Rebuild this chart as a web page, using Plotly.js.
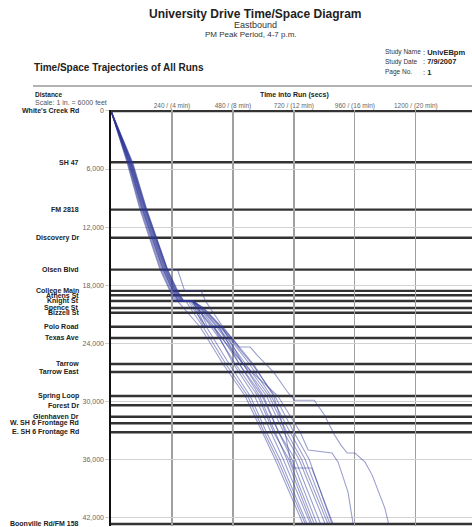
<!DOCTYPE html>
<html>
<head>
<meta charset="utf-8">
<script src="https://cdn.plot.ly/plotly-3.0.1.min.js"></script>
<style>html,body{margin:0;padding:0;background:#fff;}#chart{width:472px;height:527px;}</style>
</head>
<body>
<div id="chart"></div>
<script>
// ---- Data ----
const streetNames = ["White's Creek Rd","SH 47","FM 2818","Discovery Dr","Olsen Blvd","College Main","Athens St","Knight St","Spence St","Bizzell St","Polo Road","Texas Ave","Tarrow","Tarrow East","Spring Loop","Forest Dr","Glenhaven Dr","W. SH 6 Frontage Rd","E. SH 6 Frontage Rd","Boonville Rd/FM 158"];
const streetDist = [0,5300,10200,13100,16400,18600,19050,19640,20370,20850,22300,23460,26150,26980,29460,30420,31600,32280,33210,42690];

const timeTickVals = [240,480,720,960,1200];
const timeTickText = ["240 / (4 min)","480 / (8 min)","720 / (12 min)","960 / (16 min)","1200 / (20 min)"];
const distTickVals = [0,6000,12000,18000,24000,30000,36000,42000];

const runTimes = [
  [0,63,114,152,193,232,246,262,285,350,378,441,528,595,646,756],
  [0,65,117,155,196,235,252,295,312,362,390,452,538,603,655,765],
  [0,67,120,158,200,239,258,305,322,375,402,465,548,612,665,772],
  [0,69,123,161,204,243,262,312,330,365,405,428,482,565,628,678,785],
  [0,71,126,164,207,246,266,318,336,372,425,450,505,585,645,692,791],
  [0,73,128,166,210,249,270,320,340,395,425,490,578,640,700,800],
  [0,74,130,168,212,251,273,322,345,380,437,462,520,600,660,712,811],
  [0,76,132,170,214,253,276,323,348,405,438,505,595,660,725,825],
  [0,78,134,172,216,255,279,323,352,415,448,520,612,680,740,843],
  [0,80,136,174,218,257,281,323,355,420,455,530,622,692,750,854],
  [0,81,138,176,220,259,283,323,358,428,465,545,630,705,764,862],
  [0,83,140,178,222,261,285,323,362,432,470,555,645,720,780,870],
  [0,85,141,179,223,263,287,323,365,435,475,560,640,685,705,718,790,874],
  [0,70,124,162,205,245,265,318,338,400,435,520,657,745,776,870,894,933,953],
  [0,78,136,175,222,262,290,355,372,390,440,475,505,548,575,640,695,722,800,840,880,905,930,960,1000,1028,1078,1093]
];
const runDist = [
  [0,5300,10200,13100,16400,18600,19650,19650,20370,22300,23460,26150,29460,33210,36000,42690],
  [0,5300,10200,13100,16400,18600,19650,19650,20370,22300,23460,26150,29460,33210,36000,42690],
  [0,5300,10200,13100,16400,18600,19650,19650,20370,22300,23460,26150,29460,33210,36000,42690],
  [0,5300,10200,13100,16400,18600,19650,19650,20370,22300,22300,23460,26150,29460,33210,36000,42690],
  [0,5300,10200,13100,16400,18600,19650,19650,20370,22300,22300,23460,26150,29460,33210,36000,42690],
  [0,5300,10200,13100,16400,18600,19650,19650,20370,22300,23460,26150,29460,33210,36000,42690],
  [0,5300,10200,13100,16400,18600,19650,19650,20370,22300,22300,23460,26150,29460,33210,36000,42690],
  [0,5300,10200,13100,16400,18600,19650,19650,20370,22300,23460,26150,29460,33210,36000,42690],
  [0,5300,10200,13100,16400,18600,19650,19650,20370,22300,23460,26150,29460,33210,36000,42690],
  [0,5300,10200,13100,16400,18600,19650,19650,20370,22300,23460,26150,29460,33210,36000,42690],
  [0,5300,10200,13100,16400,18600,19650,19650,20370,22300,23460,26150,29460,33210,36000,42690],
  [0,5300,10200,13100,16400,18600,19650,19650,20370,22300,23460,26150,29460,33210,36000,42690],
  [0,5300,10200,13100,16400,18600,19650,19650,20370,22300,23460,26150,29460,33210,36000,36900,36900,42690],
  [0,5300,10200,13100,16400,18600,19650,19650,20370,22300,23460,26150,29460,33210,35050,35360,36300,39400,42690],
  [0,5300,10200,13100,16400,16400,18600,18600,19650,20370,22300,23460,24400,24400,25230,27000,29050,29900,29900,31430,33500,34540,35360,35360,36300,37640,41050,42690]
];

// ---- Build ----
const FONT = "Liberation Sans, Arial, sans-serif";
const traces = runTimes.map((t, i) => ({
  type: 'scatter', mode: 'lines', x: t, y: runDist[i],
  line: {color: 'rgba(45,55,150,0.48)', width: 1.1},
  hoverinfo: 'skip'
}));

const shapes = streetDist.map(d => ({
  type: 'line', xref: 'paper', x0: 0, x1: 1, yref: 'y', y0: d, y1: d,
  line: {color: '#333', width: 2.4}, layer: 'between'
}));
// header rule
shapes.push({type:'line', xref:'paper', yref:'paper', x0:-0.2161, x1:1, y0:1.0577, y1:1.0577, line:{color:'#999', width:1.5}});

const annotations = streetNames.map((n, i) => ({
  xref: 'paper', x: -0.0831, xanchor: 'right', yref: 'y', y: streetDist[i], yanchor: 'middle',
  text: '<b>' + n + '</b>', showarrow: false, font: {family: FONT, size: 7, color: '#222'}
}));
function txt(text, px, py, size, anchor, color) {
  annotations.push({xref:'paper', yref:'paper', x:(px-111)/361, y:(526-py)/416, xanchor:anchor, yanchor:'middle',
    text:text, showarrow:false, font:{family:FONT, size:size, color:color||'#222'}});
}
txt('<b>University Drive Time/Space Diagram</b>', 255, 14, 12, 'center');
txt('Eastbound', 255, 25, 9, 'center', '#333');
txt('PM Peak Period, 4-7 p.m.', 251, 34, 8, 'center', '#333');
txt('Study Name', 383, 52, 6.5, 'left', '#333');
txt('Study Date', 383, 62, 6.5, 'left', '#333');
txt('Page No.', 383, 72, 6.5, 'left', '#333');
txt(': <b>UnivEBpm</b>', 421, 52, 7.5, 'left', '#222');
txt(': <b>7/9/2007</b>', 421, 62, 7.5, 'left', '#222');
txt(': <b>1</b>', 421, 72, 7.5, 'left', '#222');
txt('<b>Time/Space Trajectories of All Runs</b>', 32, 67, 10, 'left');
txt('<b>Distance</b>', 33, 94.7, 6.5, 'left');
txt('Scale: 1 in. = 6000 feet', 33, 102.7, 7, 'left', '#555');
txt('<b>Time into Run (secs)</b>', 294, 94.7, 7, 'center');

const layout = {
  width: 472, height: 527,
  margin: {l: 111, r: 0, t: 110, b: 1, pad: 0},
  paper_bgcolor: '#fff', plot_bgcolor: '#fff',
  showlegend: false,
  font: {family: FONT},
  xaxis: {
    range: [0, 1421], side: 'top', tickvals: timeTickVals, ticktext: timeTickText,
    showgrid: true, gridcolor: '#a0a0a0', gridwidth: 1.2, zeroline: false, showline: false,
    ticks: '', tickfont: {family: FONT, size: 6.5, color: '#666'}, fixedrange: true
  },
  yaxis: {
    range: [42900, -100], tickvals: distTickVals, tickformat: ',',
    showgrid: true, gridcolor: '#d2d2d2', gridwidth: 1, zeroline: false,
    showline: true, linecolor: '#111', linewidth: 1.6,
    ticks: 'outside', ticklen: 4, tickcolor: '#ccc',
    tickfont: {family: FONT, size: 7, color: '#666'}, fixedrange: true
  },
  shapes: shapes,
  annotations: annotations
};
Plotly.newPlot('chart', traces, layout, {displayModeBar: false, staticPlot: true});
</script>
</body>
</html>
